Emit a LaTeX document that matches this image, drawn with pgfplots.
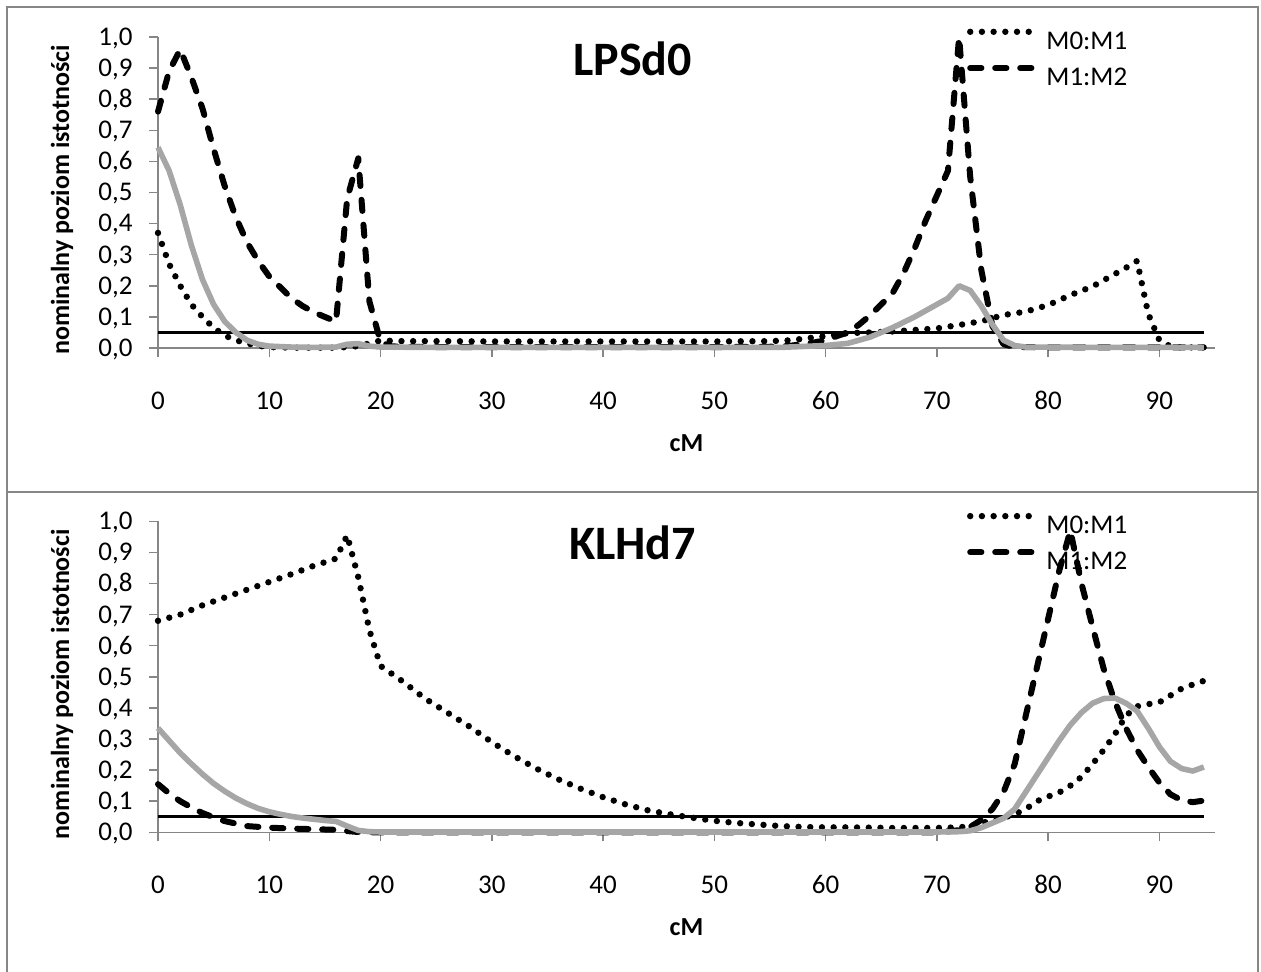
\documentclass[border=0pt]{standalone}
\usepackage{fontspec}
\setmainfont{Carlito}
\usepackage{pgfplots}
\pgfplotsset{compat=1.18}
\definecolor{axgray}{RGB}{134,134,134}
\definecolor{lgray}{RGB}{166,166,166}

\pgfplotsset{
  panel/.style={
    scale only axis, width=528.5pt, height=155.5pt,
    xmin=0, xmax=95, ymin=0, ymax=1,
    axis x line*=bottom, axis y line*=left,
    axis line style={axgray, line width=0.75pt},
    xtick={0,10,...,90},
    ytick={0,0.1,0.2,0.3,0.4,0.5,0.6,0.7,0.8,0.9,1},
    tick align=outside, major tick length=4.5pt,
    tick style={axgray, line width=0.75pt},
    clip=false,
    /pgf/number format/assume math mode=true,
    tick label style={font=\fontsize{13.5}{16}\selectfont, inner sep=0pt},
    xticklabel style={anchor=base, yshift=-26.2pt},
    yticklabel style={anchor=base east, xshift=-8pt, yshift=-4.2pt,
      /pgf/number format/.cd, fixed, fixed zerofill, precision=1, use comma},
    every axis x label/.style={at={(rel axis cs:0.5,-0.305)}, anchor=center,
      font=\bfseries\fontsize{13}{15}\selectfont},
    every axis y label/.style={at={(rel axis cs:-0.0908,0.476)}, rotate=90,
      anchor=center, font=\bfseries\fontsize{13}{15}\selectfont},
    xlabel={cM}, ylabel={nominalny poziom istotności},
    legend style={draw=none, fill=none, inner sep=0pt, outer sep=0pt,
      at={(rel axis cs:0.7654,1.027)}, anchor=north west,
      row sep=8pt, column sep=5pt,
      font=\fontsize{13.5}{16}\selectfont,
      nodes={inner sep=0pt, text height=8.6pt, text depth=0pt}},
    legend cell align=left,
    legend image code/.code={\draw[##1] (0pt,4.3pt) -- (31.5pt,4.3pt);},
  },
  mdot/.style={black, line width=3.2pt, line cap=round, dash pattern=on 0pt off 5.85pt},
  mdash/.style={black, line width=3pt, line cap=round, line join=round, dash pattern=on 5.6pt off 6.9pt},
  mgray/.style={lgray, line width=2.8pt, line join=round},
  mlim/.style={black, line width=1.5pt},
}

\begin{document}
\begin{tikzpicture}
\useasboundingbox (0,0) rectangle (630.5pt,-486pt);
\draw[axgray, line width=1.2pt] (3.6pt,-3.6pt) rectangle (629pt,-246pt);
\draw[axgray, line width=1.2pt] (3.6pt,-246pt) rectangle (629pt,-500pt);

% LPSd0
\begin{axis}[panel, at={(79pt,-174pt)}, anchor=south west]
\addplot[mlim, forget plot] coordinates {(0,0.05) (94,0.05)};
\addplot[mdot] coordinates {
(0,0.37)(1,0.27)(2,0.20)(3,0.14)(4,0.10)(5,0.065)(6,0.04)(7,0.025)(8,0.015)
(9,0.007)(10,0.003)(12,0.001)(14,0.001)(16,0.001)(17,0.003)(18,0.006)(19,0.015)
(20,0.024)(22,0.022)(25,0.022)(30,0.021)(35,0.021)(40,0.021)(45,0.021)(50,0.021)
(55,0.022)(57,0.025)(58,0.03)(60,0.038)(62,0.048)(64,0.05)(66,0.053)(68,0.058)
(70,0.063)(72,0.074)(74,0.086)(76,0.106)(78,0.117)(80,0.138)(82,0.17)(84,0.198)
(86,0.238)(87,0.258)(88,0.28)(89,0.11)(90,0.025)(91,0.005)(92,0.002)(94,0.002)};
\addlegendentry{M0:M1}
\addplot[mdash] coordinates {
(0,0.76)(1,0.89)(2,0.96)(3,0.87)(4,0.77)(5,0.64)(6,0.52)(7,0.42)(8,0.34)(9,0.28)
(10,0.23)(11,0.195)(12,0.16)(13,0.135)(14,0.115)(15,0.10)(16,0.085)(17,0.48)
(18,0.61)(19,0.15)(20,0.02)(21,0.005)(25,0.003)(30,0.003)(40,0.003)(50,0.003)
(55,0.004)(57,0.008)(59,0.018)(60,0.025)(61,0.038)(62,0.05)(63,0.075)(64,0.105)
(65,0.14)(66,0.175)(67,0.24)(68,0.32)(69,0.41)(70,0.49)(71,0.57)(72,1.0)(73,0.55)
(74,0.25)(75,0.07)(76,0.012)(77,0.003)(80,0.002)(90,0.002)(94,0.002)};
\addlegendentry{M1:M2}
\addplot[mgray, forget plot] coordinates {
(0,0.645)(1,0.57)(2,0.46)(3,0.33)(4,0.22)(5,0.14)(6,0.085)(7,0.05)(8,0.025)
(9,0.012)(10,0.006)(12,0.003)(14,0.002)(16,0.003)(17,0.012)(18,0.014)(19,0.006)
(20,0.003)(25,0.002)(30,0.002)(40,0.002)(50,0.002)(56,0.002)(58,0.005)(60,0.008)
(62,0.015)(64,0.035)(66,0.065)(68,0.1)(70,0.14)(71,0.16)(72,0.2)(73,0.185)
(74,0.135)(75,0.075)(76,0.025)(77,0.008)(78,0.003)(85,0.002)(94,0.002)};
\node[font=\bfseries\fontsize{24}{28}\selectfont] at (rel axis cs:0.449,0.929) {LPSd0};
\end{axis}

% KLHd7
\begin{axis}[panel, at={(79pt,-416.15pt)}, anchor=south west]
\addplot[mlim, forget plot] coordinates {(0,0.05) (94,0.05)};
\addplot[mdot] coordinates {
(0,0.68)(2,0.70)(4,0.73)(6,0.755)(8,0.78)(10,0.805)(12,0.83)(14,0.857)(16,0.88)
(17,0.955)(18,0.82)(19,0.65)(20,0.535)(21,0.51)(22,0.485)(24,0.43)(26,0.385)
(28,0.34)(30,0.29)(32,0.245)(34,0.205)(36,0.17)(38,0.14)(40,0.113)(42,0.09)
(44,0.071)(46,0.058)(48,0.047)(50,0.037)(52,0.03)(54,0.025)(56,0.02)(58,0.017)
(60,0.016)(62,0.016)(64,0.015)(66,0.014)(68,0.014)(70,0.014)(72,0.016)(73,0.02)
(74,0.03)(75,0.038)(76,0.047)(77,0.058)(78,0.075)(79,0.1)(80,0.115)(81,0.128)
(82,0.15)(83,0.178)(84,0.22)(85,0.265)(86,0.315)(87,0.375)(88,0.405)(89,0.412)
(90,0.418)(91,0.44)(92,0.462)(93,0.475)(94,0.487)};
\addlegendentry{M0:M1}
\addplot[mdash] coordinates {
(0,0.155)(1,0.125)(2,0.1)(3,0.08)(4,0.062)(5,0.048)(6,0.036)(7,0.028)(8,0.02)
(10,0.015)(12,0.012)(14,0.01)(16,0.008)(17,0.004)(18,0.001)(19,0)(30,0)(40,0)
(50,0)(60,0)(70,0)(71,0.003)(72,0.007)(73,0.017)(74,0.04)(75,0.075)(76,0.13)
(77,0.22)(78,0.376)(79,0.531)(80,0.686)(81,0.841)(82,0.97)(83,0.8)(84,0.66)
(85,0.525)(86,0.42)(87,0.335)(88,0.265)(89,0.21)(90,0.16)(91,0.122)(92,0.103)
(93,0.097)(94,0.102)};
\addlegendentry{M1:M2}
\addplot[mgray, forget plot] coordinates {
(0,0.335)(1,0.295)(2,0.255)(3,0.22)(4,0.187)(5,0.157)(6,0.132)(7,0.11)(8,0.092)
(9,0.077)(10,0.066)(11,0.058)(12,0.051)(13,0.046)(14,0.042)(15,0.038)(16,0.035)
(17,0.02)(18,0.006)(19,0.002)(20,0.001)(30,0.001)(40,0.001)(50,0.001)(60,0.001)
(70,0.001)(72,0.002)(73,0.005)(74,0.015)(75,0.03)(76,0.045)(77,0.075)(78,0.13)
(79,0.185)(80,0.24)(81,0.295)(82,0.345)(83,0.385)(84,0.415)(85,0.43)(86,0.432)
(87,0.415)(88,0.39)(89,0.335)(90,0.275)(91,0.228)(92,0.205)(93,0.197)(94,0.21)};
\node[font=\bfseries\fontsize{24}{28}\selectfont] at (rel axis cs:0.449,0.931) {KLHd7};
\end{axis}
\end{tikzpicture}
\end{document}
